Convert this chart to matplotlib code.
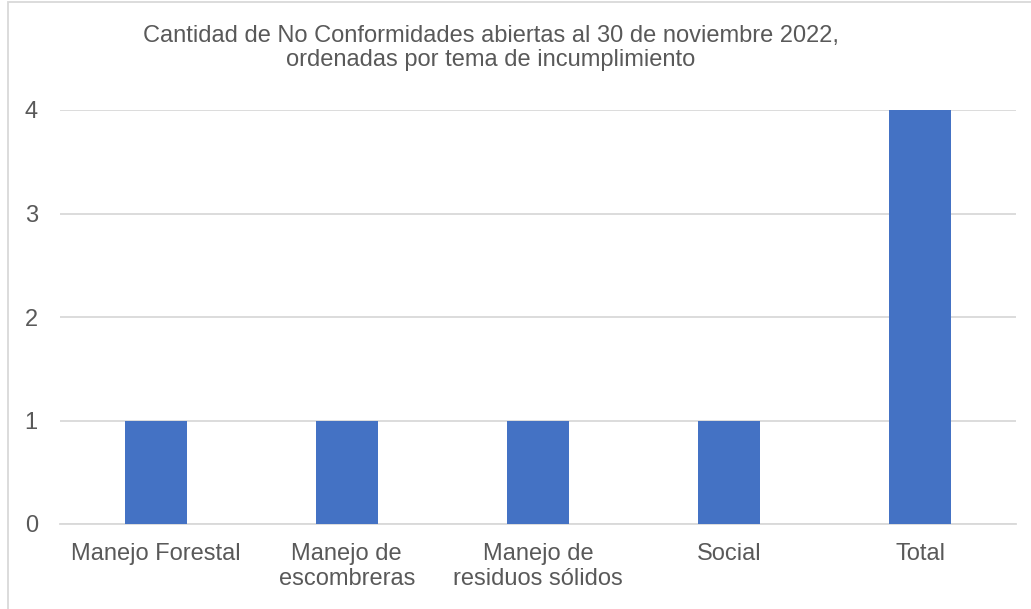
import matplotlib.pyplot as plt
from matplotlib.patches import Rectangle

categorias = ["Manejo Forestal", "Manejo de\nescombreras", "Manejo de\nresiduos sólidos", "Social", "Total"]
cantidades = [1, 1, 1, 1, 4]
ticks_y = [0, 1, 2, 3, 4]

plt.rcParams['font.family'] = ['Liberation Sans', 'DejaVu Sans']

fig = plt.figure(figsize=(10.31, 6.09), dpi=100)
ax = fig.add_axes([60/1031, 1 - 524/609, (1016 - 60)/1031, (524 - 110)/609])

# borde del grafico
fig.patches.append(Rectangle((8/1031, -0.05), 1.1, 1.05 - 1.5/609, transform=fig.transFigure,
                             fill=False, edgecolor='#D9D9D9', linewidth=1.3))

x = range(len(categorias))
ax.bar(x, cantidades, width=0.325, color='#4472C4', zorder=3)

ax.set_xlim(-0.5, len(categorias) - 0.5)
ax.set_ylim(0, 4)
ax.set_yticks(ticks_y)
ax.set_xticks(list(x))
ax.set_xticklabels(categorias, fontsize=17, color='#595959', linespacing=1.15)
ax.tick_params(axis='y', labelsize=17, labelcolor='#595959', length=0, pad=16)
ax.tick_params(axis='x', length=0, pad=14)
for lab in ax.get_yticklabels():
    lab.set_horizontalalignment('right')

ax.grid(axis='y', color='#D9D9D9', linewidth=1.3, zorder=0)
for s in ['top', 'right', 'left']:
    ax.spines[s].set_visible(False)
ax.spines['bottom'].set_color('#D9D9D9')
ax.spines['bottom'].set_linewidth(1.3)

fig.text(491/1031, 1 - 48/609,
         "Cantidad de No Conformidades abiertas al 30 de noviembre 2022,\nordenadas por tema de incumplimiento",
         ha='center', va='center', fontsize=17, color='#595959', linespacing=1.15)

fig.savefig('out.png', dpi=100)
